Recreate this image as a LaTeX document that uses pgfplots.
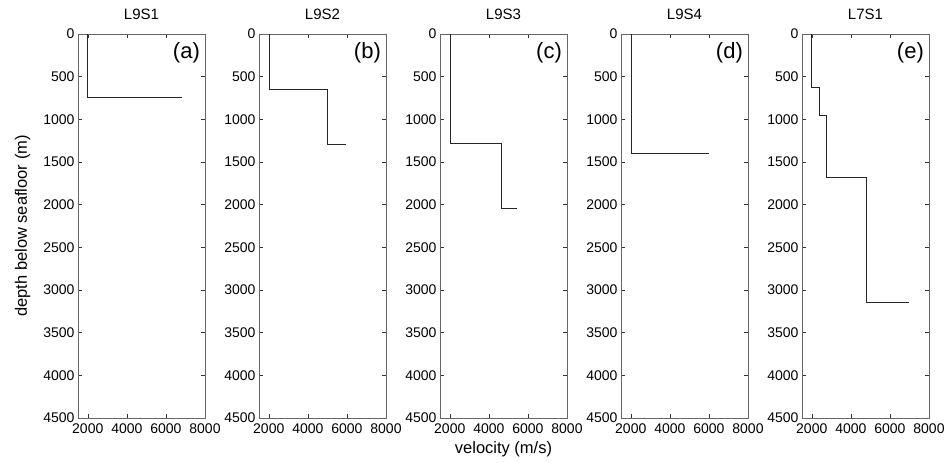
\documentclass[border=0pt]{standalone}
\usepackage{pgfplots}
\pgfplotsset{compat=1.18}
\usepackage{fontspec}
\setmainfont{Liberation Sans}
\begin{document}
\begin{tikzpicture}
\path[use as bounding box] (-78pt,-45pt) rectangle (870pt,418pt);
\pgfplotsset{panel/.style={
  anchor=south west,
  scale only axis, width=127pt, height=384pt,
  xmin=1500, xmax=8000, ymin=0, ymax=4500, y dir=reverse,
  xtick={2000,4000,6000,8000}, ytick={0,500,...,4500},
  tick align=inside, major tick length=4pt,
  tick style={black!80, line width=0.5pt},
  axis line style={black!60, line width=0.7pt},
  tick label style={font=\fontsize{14}{14}\selectfont},
  xticklabel style={yshift=-2pt},
  /pgf/number format/assume math mode=true,
  /pgf/number format/1000 sep={},
  title style={font=\fontsize{15}{15}\selectfont, at={(axis description cs:0.5,1.036)}, anchor=center},
  xlabel style={font=\fontsize{16.5}{16.5}\selectfont, at={(axis description cs:0.5,-0.081)}, anchor=center},
  ylabel style={font=\fontsize{16.5}{16.5}\selectfont, at={(axis description cs:-0.437,0.5)}, anchor=center},
}}
\tikzset{prof/.style={black!85, line width=0.8pt, mark=none}}
\newcommand{\panellabel}[1]{\node[anchor=north east, font=\fontsize{22}{22}\selectfont, inner sep=0pt] at (axis description cs:0.961,0.977) {#1};}
\begin{axis}[panel, at={(0pt,0pt)}, title={L9S1}, ylabel={depth below seafloor (m)}]
\addplot[prof] coordinates {(2000,0) (2000,740) (6800,740)};
\panellabel{(a)}
\end{axis}
\begin{axis}[panel, at={(181pt,0pt)}, title={L9S2}]
\addplot[prof] coordinates {(2050,0) (2050,655) (5000,655) (5000,1290) (5950,1290)};
\panellabel{(b)}
\end{axis}
\begin{axis}[panel, at={(362pt,0pt)}, title={L9S3}, xlabel={velocity (m/s)}]
\addplot[prof] coordinates {(2050,0) (2050,1280) (4660,1280) (4660,2045) (5450,2045)};
\panellabel{(c)}
\end{axis}
\begin{axis}[panel, at={(543pt,0pt)}, title={L9S4}]
\addplot[prof] coordinates {(2050,0) (2050,1400) (6000,1400)};
\panellabel{(d)}
\end{axis}
\begin{axis}[panel, at={(724pt,0pt)}, title={L7S1}]
\addplot[prof] coordinates {(2000,0) (2000,630) (2400,630) (2400,955) (2760,955) (2760,1675) (4800,1675) (4800,3145) (7000,3145)};
\panellabel{(e)}
\end{axis}
\end{tikzpicture}
\end{document}
